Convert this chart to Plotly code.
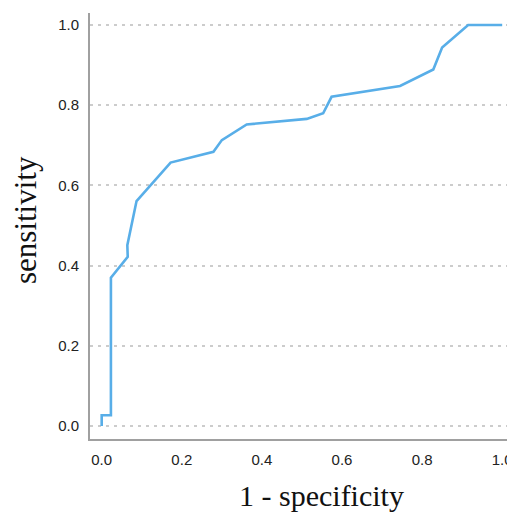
import plotly.graph_objects as go

# ROC curve values
fpr = [0.0, 0.0, 0.023, 0.023, 0.065, 0.064, 0.087, 0.172, 0.279, 0.300,
       0.362, 0.512, 0.553, 0.574, 0.745, 0.828, 0.850, 0.915, 1.0]
tpr = [0.0, 0.027, 0.027, 0.370, 0.422, 0.451, 0.561, 0.657, 0.684, 0.713,
       0.752, 0.766, 0.780, 0.821, 0.848, 0.889, 0.944, 1.0, 1.0]

tick_vals = [0.0, 0.2, 0.4, 0.6, 0.8, 1.0]
tick_text = ["0.0", "0.2", "0.4", "0.6", "0.8", "1.0"]
x_title = "1 - specificity"
y_title = "sensitivity"

W, H = 507, 513
ML, MR, MT, MB = 90, 0, 13, 74
pw = W - ML - MR
ph = H - MT - MB

fig = go.Figure()
fig.add_trace(go.Scatter(
    x=fpr, y=tpr, mode="lines",
    line=dict(color="#58AEE8", width=2.6),
    hoverinfo="skip", showlegend=False,
))

tick_font = dict(family="Liberation Sans, Arial, sans-serif", size=15, color="#222222")

fig.update_layout(
    width=W, height=H,
    margin=dict(l=ML, r=MR, t=MT, b=MB, pad=0),
    paper_bgcolor="white", plot_bgcolor="white",
    showlegend=False,
    xaxis=dict(
        range=[-0.0292, 1.012], showgrid=False, zeroline=False,
        showline=True, linecolor="#a0a0a0", linewidth=2,
        tickvals=tick_vals, ticktext=tick_text, ticks="",
        tickfont=tick_font, ticklabelstandoff=6, automargin=False,
        ticklabeloverflow="allow",
    ),
    yaxis=dict(
        range=[-0.0324, 1.030], showgrid=True, zeroline=False,
        gridcolor="#cccccc", gridwidth=2, griddash="3px,5px",
        showline=True, linecolor="#a0a0a0", linewidth=2,
        tickvals=tick_vals, ticktext=tick_text, ticks="",
        tickfont=tick_font, ticklabelstandoff=6, automargin=False,
        ticklabeloverflow="allow",
    ),
    annotations=[
        dict(text=y_title, xref="paper", yref="paper",
             x=(25 - ML) / pw, y=(H - MB - 220) / ph,
             xanchor="center", yanchor="middle", textangle=-90,
             showarrow=False,
             font=dict(family="Liberation Serif, Times New Roman, serif", size=31, color="#111111")),
        dict(text=x_title, xref="paper", yref="paper",
             x=(321.5 - ML) / pw, y=(H - MB - 495) / ph,
             xanchor="center", yanchor="middle",
             showarrow=False,
             font=dict(family="Liberation Serif, Times New Roman, serif", size=30, color="#111111")),
    ],
)

fig.write_html(
    "out.html",
    config={"displayModeBar": False},
    post_script="document.body.style.margin='0';document.body.style.overflow='hidden';",
)
